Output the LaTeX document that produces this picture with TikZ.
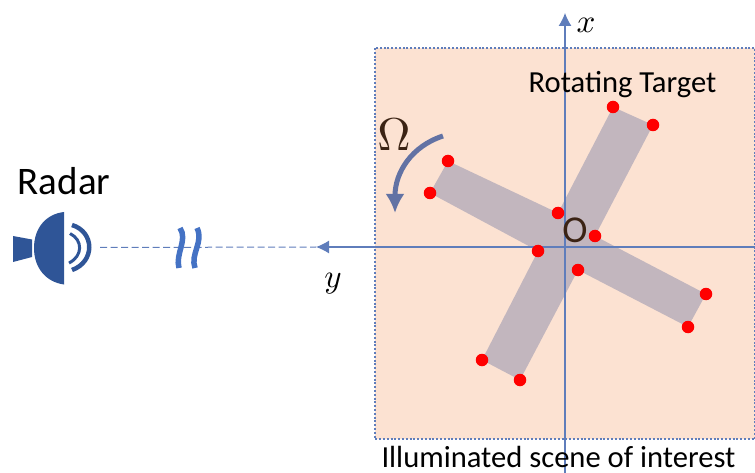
\documentclass[tikz,border=0pt]{standalone}
\usepackage{xcolor}
\usepackage{fontspec}
\setmainfont{Carlito}
\definecolor{scenefill}{HTML}{FCE2D2}
\definecolor{targetgrey}{HTML}{C2B6BE}
\definecolor{axisblue}{HTML}{5F7DBB}
\definecolor{breakblue}{HTML}{4472C4}
\definecolor{radarblue}{HTML}{2F5597}
\definecolor{spinblue}{HTML}{6272A4}
\definecolor{darkbrown}{HTML}{3B2314}
\tikzset{
    reddot/.style={circle,fill=red,inner sep=0pt,minimum size=12.5pt},
    axisline/.style={axisblue,line width=1.1pt,-{Latex[length=13pt,width=13pt]}},
}
\usetikzlibrary{arrows.meta}

\begin{document}
\begin{tikzpicture}
    [x=1pt,y=-1pt]
    \useasboundingbox (0,0) rectangle (755,473);
    %scene
    \draw[fill=scenefill,draw=axisblue,line width=2pt,dash pattern=on 2pt off 1.8pt] (375,48) rectangle (755,439);
    %target
    \fill[targetgrey] (613,107)--(653,125)--(595,236)--(706,294)--(688,327)--(578,270)--(520,380)--(482,360)--(538,251)--(430,193)--(448,161)--(558,213)--cycle;
    %axes
    \coordinate (xstart) at (565,473);
    \coordinate (xend) at (565,13);
    \coordinate (ystart) at (755,247);
    \coordinate (yend) at (316,247);
    \coordinate (linkstart) at (100,247.5);
    \draw[axisline] (xstart)--(xend);
    \draw[axisline] (ystart)--(yend);
    \draw[axisblue,line width=1pt,dash pattern=on 7pt off 3.5pt] (linkstart)--(yend);
    \node[inner sep=0pt,scale=3.3] (xlabel) at (586,25) {$x$};
    \node[inner sep=0pt,scale=3.3] (ylabel) at (333,284) {$y$};
    %corner points
    \node[reddot] (p1) at (613,107) {};
    \node[reddot] (p2) at (653,125) {};
    \node[reddot] (p3) at (448,161) {};
    \node[reddot] (p4) at (430,193) {};
    \node[reddot] (p5) at (558,213) {};
    \node[reddot] (p6) at (595,236) {};
    \node[reddot] (p7) at (538,251) {};
    \node[reddot] (p8) at (578,270) {};
    \node[reddot] (p9) at (706,294) {};
    \node[reddot] (p10) at (688,327) {};
    \node[reddot] (p11) at (482,360) {};
    \node[reddot] (p12) at (520,380) {};
    %rotation
    \coordinate (spinstart) at (443,136);
    \coordinate (spinend) at (395,213);
    \draw[spinblue,line width=5pt,-{Latex[length=19pt,width=19pt]}] (spinstart) .. controls (412,146) and (395,172) .. (spinend);
    %labels
    \node[text=darkbrown,inner sep=0pt,scale=4.6] (omega) at (394,135) {$\Omega$};
    \node[text=darkbrown,inner sep=0pt,font=\fontsize{38}{38}\selectfont] (origin) at (575,230) {O};
    \node[inner sep=0pt,font=\fontsize{30.6}{31}\selectfont] (rotating) at (622.5,85) {Rotating Target};
    \node[inner sep=0pt,font=\fontsize{30.6}{31}\selectfont] (scene) at (558.5,457) {Illuminated scene of interest};
    \node[inner sep=0pt,font=\fontsize{39}{39}\selectfont] (radar) at (64,181) {Radar};
    %radar
    \fill[radarblue] (13,236)--(32,239.5)--(32,257)--(13,262)--cycle;
    \fill[radarblue] (64,212) .. controls (46,214) and (34,228) .. (34,248) .. controls (34,268) and (46,282) .. (64,284.5)--cycle;
    \draw[radarblue,line width=4.5pt] (72,225) .. controls (95,232) and (95,262) .. (72,270);
    \draw[radarblue,line width=3pt] (70,233.5) .. controls (83,240) and (83,256) .. (69,263);
    %break
    \draw[breakblue,line width=5.5pt] (180,228) .. controls (188,240) and (175,254) .. (179,268);
    \draw[breakblue,line width=5.5pt] (197,228) .. controls (204,242) and (190,254) .. (195,268);
\end{tikzpicture}
\end{document}
